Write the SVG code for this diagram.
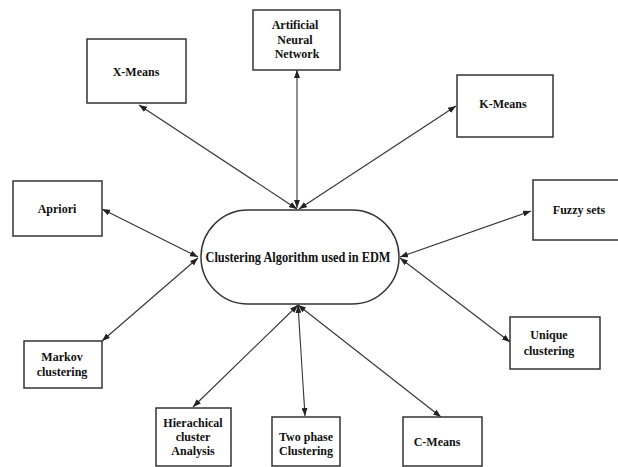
<svg xmlns="http://www.w3.org/2000/svg" width="618" height="467" viewBox="0 0 618 467">
<style>
.box{fill:#fff;stroke:#333;stroke-width:1.5}
.lbl{font-family:"Liberation Serif","Times New Roman",serif;font-weight:bold;font-size:12px;fill:#111;text-anchor:middle;dominant-baseline:central}
.con{stroke:#333;stroke-width:1.1;fill:none;marker-start:url(#ah);marker-end:url(#ah)}
</style>
<defs>
<marker id="ah" markerUnits="userSpaceOnUse" markerWidth="8" markerHeight="6" refX="8" refY="3" orient="auto-start-reverse">
<path d="M0,0 L8,3 L0,6 Z" fill="#222"/>
</marker>
</defs>
<rect width="618" height="467" fill="#fff"/>
<g id="connectors">
<line class="con" x1="139" y1="105" x2="297" y2="209"/>
<line class="con" x1="297" y1="70" x2="297" y2="208"/>
<line class="con" x1="456" y1="106" x2="299" y2="209"/>
<line class="con" x1="102" y1="209" x2="198" y2="257"/>
<line class="con" x1="102" y1="341" x2="198" y2="258"/>
<line class="con" x1="531" y1="211" x2="400" y2="257"/>
<line class="con" x1="510" y1="342" x2="400" y2="258"/>
<line class="con" x1="193" y1="407" x2="298" y2="305"/>
<line class="con" x1="305" y1="416" x2="298" y2="305"/>
<line class="con" x1="441" y1="417" x2="298" y2="305"/>
</g>
<g id="center">
<rect class="box" x="201" y="210" width="198" height="94" rx="47" ry="47"/>
<text class="lbl" x="298" y="257" font-size="14" style="font-size:14px" textLength="185" lengthAdjust="spacingAndGlyphs">Clustering Algorithm used in EDM</text>
</g>
<g id="xmeans">
<rect class="box" x="87" y="39" width="99" height="64"/>
<text class="lbl" x="136" y="72">X-Means</text>
</g>
<g id="ann">
<rect class="box" x="253" y="10" width="87" height="60"/>
<text class="lbl" x="295" y="25">Artificial</text>
<text class="lbl" x="295" y="40">Neural</text>
<text class="lbl" x="297" y="54">Network</text>
</g>
<g id="kmeans">
<rect class="box" x="457" y="75" width="96" height="62"/>
<text class="lbl" x="503" y="104">K-Means</text>
</g>
<g id="apriori">
<rect class="box" x="13" y="181" width="89" height="55"/>
<text class="lbl" x="57" y="209">Apriori</text>
</g>
<g id="fuzzy">
<rect class="box" x="533" y="180" width="90" height="60"/>
<text class="lbl" x="579" y="210">Fuzzy sets</text>
</g>
<g id="markov">
<rect class="box" x="24" y="341" width="78" height="47"/>
<text class="lbl" x="62" y="357">Markov</text>
<text class="lbl" x="62" y="372">clustering</text>
</g>
<g id="unique">
<rect class="box" x="510" y="317" width="90" height="52"/>
<text class="lbl" x="549" y="335">Unique</text>
<text class="lbl" x="549" y="351">clustering</text>
</g>
<g id="hierarchical">
<rect class="box" x="156" y="408" width="75" height="58"/>
<text class="lbl" x="193" y="423">Hierachical</text>
<text class="lbl" x="193" y="437">cluster</text>
<text class="lbl" x="193" y="451">Analysis</text>
</g>
<g id="twophase">
<rect class="box" x="272" y="417" width="68" height="49"/>
<text class="lbl" x="306" y="437">Two phase</text>
<text class="lbl" x="306" y="451">Clustering</text>
</g>
<g id="cmeans">
<rect class="box" x="403" y="417" width="79" height="49"/>
<text class="lbl" x="437" y="442">C-Means</text>
</g>
</svg>
